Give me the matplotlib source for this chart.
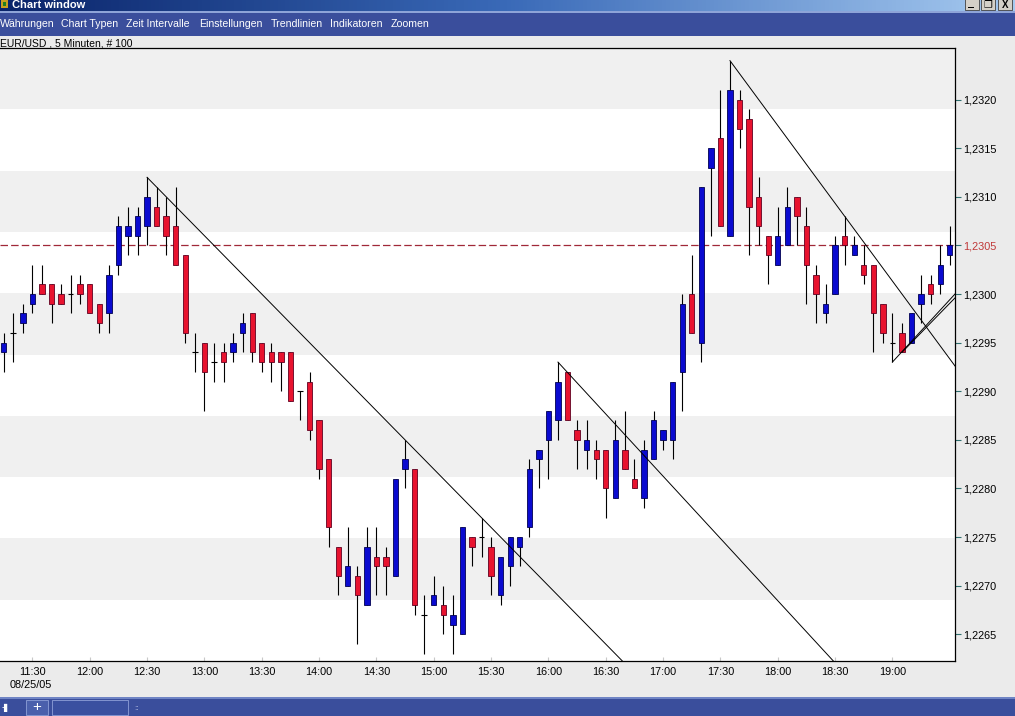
import numpy as np
import matplotlib
matplotlib.use('Agg')
import matplotlib.pyplot as plt
from matplotlib.patches import Rectangle

plt.rcParams['font.family'] = ['Liberation Sans', 'DejaVu Sans']

W, H = 1015, 716

# EUR/USD 5 minute candles, 11:15 .. 19:30 on 08/25/05
opens = [1.2294, 1.2296, 1.2297, 1.2299, 1.2301, 1.2301, 1.2300, 1.2300, 1.2301, 1.2301,
         1.2299, 1.2298, 1.2303, 1.2306, 1.2306, 1.2307, 1.2309, 1.2308, 1.2307, 1.2304,
         1.2294, 1.2295, 1.2293, 1.2294, 1.2294, 1.2296, 1.2298, 1.2295, 1.2294, 1.2294,
         1.2294, 1.2290, 1.2291, 1.2287, 1.2283, 1.2274, 1.2270, 1.2271, 1.2268, 1.2273,
         1.2273, 1.2271, 1.2282, 1.2282, 1.2267, 1.2268, 1.2268, 1.2266, 1.2265, 1.2275,
         1.2275, 1.2274, 1.2269, 1.2272, 1.2274, 1.2276, 1.2283, 1.2285, 1.2287, 1.2292,
         1.2286, 1.2284, 1.2284, 1.2284, 1.2279, 1.2284, 1.2281, 1.2279, 1.2283, 1.2285,
         1.2285, 1.2292, 1.2300, 1.2295, 1.2313, 1.2316, 1.2306, 1.2320, 1.2318, 1.2310,
         1.2306, 1.2303, 1.2305, 1.2310, 1.2307, 1.2302, 1.2298, 1.2300, 1.2306, 1.2304,
         1.2303, 1.2303, 1.2299, 1.2295, 1.2296, 1.2295, 1.2299, 1.2301, 1.2301, 1.2304]
highs = [1.2296, 1.2298, 1.2299, 1.2303, 1.2303, 1.2301, 1.2301, 1.2302, 1.2302, 1.2301,
         1.2299, 1.2303, 1.2308, 1.2309, 1.2309, 1.2312, 1.2311, 1.2310, 1.2311, 1.2304,
         1.2296, 1.2295, 1.2295, 1.2295, 1.2296, 1.2298, 1.2298, 1.2295, 1.2295, 1.2294,
         1.2294, 1.2290, 1.2292, 1.2287, 1.2283, 1.2274, 1.2276, 1.2272, 1.2276, 1.2276,
         1.2274, 1.2281, 1.2285, 1.2282, 1.2269, 1.2271, 1.2270, 1.2269, 1.2276, 1.2275,
         1.2277, 1.2275, 1.2273, 1.2275, 1.2275, 1.2283, 1.2284, 1.2288, 1.2293, 1.2292,
         1.2287, 1.2287, 1.2285, 1.2284, 1.2287, 1.2288, 1.2283, 1.2285, 1.2288, 1.2286,
         1.2291, 1.2300, 1.2304, 1.2311, 1.2315, 1.2321, 1.2324, 1.2321, 1.2319, 1.2312,
         1.2306, 1.2309, 1.2311, 1.2310, 1.2309, 1.2303, 1.2301, 1.2306, 1.2308, 1.2306,
         1.2305, 1.2303, 1.2299, 1.2298, 1.2297, 1.2298, 1.2302, 1.2302, 1.2305, 1.2307]
lows = [1.2292, 1.2293, 1.2296, 1.2298, 1.2300, 1.2297, 1.2299, 1.2298, 1.2299, 1.2298,
        1.2296, 1.2296, 1.2302, 1.2304, 1.2304, 1.2305, 1.2307, 1.2304, 1.2303, 1.2295,
        1.2292, 1.2288, 1.2291, 1.2291, 1.2293, 1.2294, 1.2293, 1.2292, 1.2291, 1.2290,
        1.2289, 1.2287, 1.2285, 1.2281, 1.2274, 1.2269, 1.2270, 1.2264, 1.2268, 1.2269,
        1.2269, 1.2271, 1.2280, 1.2267, 1.2263, 1.2268, 1.2265, 1.2263, 1.2265, 1.2272,
        1.2273, 1.2269, 1.2268, 1.2270, 1.2272, 1.2275, 1.2280, 1.2281, 1.2285, 1.2287,
        1.2282, 1.2282, 1.2281, 1.2277, 1.2279, 1.2282, 1.2280, 1.2278, 1.2283, 1.2284,
        1.2283, 1.2288, 1.2296, 1.2293, 1.2306, 1.2307, 1.2306, 1.2315, 1.2304, 1.2305,
        1.2301, 1.2303, 1.2305, 1.2305, 1.2299, 1.2297, 1.2297, 1.2300, 1.2303, 1.2304,
        1.2301, 1.2294, 1.2295, 1.2293, 1.2294, 1.2295, 1.2297, 1.2299, 1.2300, 1.2303]
closes = [1.2295, 1.2296, 1.2298, 1.2300, 1.2300, 1.2299, 1.2299, 1.2300, 1.2300, 1.2298,
          1.2297, 1.2302, 1.2307, 1.2307, 1.2308, 1.2310, 1.2307, 1.2306, 1.2303, 1.2296,
          1.2294, 1.2292, 1.2293, 1.2293, 1.2295, 1.2297, 1.2294, 1.2293, 1.2293, 1.2293,
          1.2289, 1.2290, 1.2286, 1.2282, 1.2276, 1.2271, 1.2272, 1.2269, 1.2274, 1.2272,
          1.2272, 1.2281, 1.2283, 1.2268, 1.2267, 1.2269, 1.2267, 1.2267, 1.2276, 1.2274,
          1.2275, 1.2271, 1.2273, 1.2275, 1.2275, 1.2282, 1.2284, 1.2288, 1.2291, 1.2287,
          1.2285, 1.2285, 1.2283, 1.2280, 1.2285, 1.2282, 1.2280, 1.2284, 1.2287, 1.2286,
          1.2291, 1.2299, 1.2296, 1.2311, 1.2315, 1.2307, 1.2321, 1.2317, 1.2309, 1.2307,
          1.2304, 1.2306, 1.2309, 1.2308, 1.2303, 1.2300, 1.2299, 1.2305, 1.2305, 1.2305,
          1.2302, 1.2298, 1.2296, 1.2295, 1.2294, 1.2298, 1.2300, 1.2300, 1.2303, 1.2305]

last_price = 1.2305

# trend lines: (candle index, price) -> (candle index, price)
trend_lines = [
    (15, 1.2312, 65, 1.2262),
    (58, 1.2293, 88, 1.2261),
    (76, 1.2324, 100, 1.2292),
    (93, 1.2293, 99.55, 1.2300),
    (94, 1.2294, 99.55, 1.22996),
]

time_tick_idx = [3, 9, 15, 21, 27, 33, 39, 45, 51, 57, 63, 69, 75, 81, 87, 93]
time_labels = ['11:30', '12:00', '12:30', '13:00', '13:30', '14:00', '14:30', '15:00',
               '15:30', '16:00', '16:30', '17:00', '17:30', '18:00', '18:30', '19:00']
price_ticks = [1.2265, 1.2270, 1.2275, 1.2280, 1.2285, 1.2290, 1.2295,
               1.2300, 1.2305, 1.2310, 1.2315, 1.2320]

menu_items = ['Währungen', 'Chart Typen', 'Zeit Intervalle', 'Einstellungen',
              'Trendlinien', 'Indikatoren', 'Zoomen']
menu_x = [0, 61, 126, 199, 271, 330, 391]

BLUE = '#0a0ad0'
RED = '#e8132f'
MENU_BLUE = '#3a4e9c'

fig = plt.figure(figsize=(W / 100, H / 100), dpi=100, facecolor='#ebebeb')

# window chrome, drawn in pixel coordinates
bg = fig.add_axes([0, 0, 1, 1])
bg.set_xlim(0, W)
bg.set_ylim(H, 0)
bg.axis('off')

grad = np.linspace(0, 1, 256)[None, :]
cmap = matplotlib.colors.LinearSegmentedColormap.from_list('title', ['#0a246a', '#3a6ab8', '#a6caf0'])
bg.imshow(grad, cmap=cmap, extent=(0, W, 11, 0), aspect='auto')
bg.add_patch(Rectangle((0, 11), W, 2, color='#8ea4d8', lw=0))
bg.add_patch(Rectangle((0, 13), W, 23, color=MENU_BLUE, lw=0))
bg.add_patch(Rectangle((1, 0), 7, 8, color='#c8a020', lw=0))
bg.add_patch(Rectangle((3, 2), 3, 4, color='#208020', lw=0))
bg.text(12, 5.5, 'Chart window', color='white', fontsize=8, fontweight='bold', va='center', ha='left')
for bx in [965, 981, 998]:
    bg.add_patch(Rectangle((bx, -1), 14, 11, facecolor='#d4d0c8', edgecolor='#404040', lw=0.6))
bg.add_patch(Rectangle((968, 7), 6, 1.3, color='black', lw=0))
bg.text(988, 5, '❐', fontsize=7, ha='center', va='center', family=['DejaVu Sans'])
bg.text(1005, 5, 'X', fontsize=7, ha='center', va='center', fontweight='bold')

for label, mx in zip(menu_items, menu_x):
    bg.text(mx, 24, label, color='white', fontsize=7.6, va='center', ha='left')

bg.text(0, 43, 'EUR/USD , 5 Minuten, # 100', fontsize=7.5, va='center', ha='left')
bg.text(10, 684.5, '08/25/05', fontsize=7.8, va='center', ha='left')

# status bar
bg.add_patch(Rectangle((0, 697), W, 19, color=MENU_BLUE, lw=0))
bg.add_patch(Rectangle((0, 697), W, 1.5, color='#6f84c4', lw=0))
bg.add_patch(Rectangle((26, 700), 22, 15, facecolor='#4a60ac', edgecolor='#8ea0d8', lw=0.6))
bg.add_patch(Rectangle((52, 700), 76, 15, facecolor='#3a50a0', edgecolor='#8ea0d8', lw=0.6))
bg.text(37, 707, '+', color='white', fontsize=11, ha='center', va='center')
bg.text(2, 707, '-▌', color='white', fontsize=6, ha='left', va='center', family=['DejaVu Sans'])
bg.text(134, 708, '::', color='#c0c8e8', fontsize=6, ha='left', va='center')

# chart area
ax = fig.add_axes([0, 1 - 661 / H, 955 / W, 613 / H])
ax.set_facecolor('white')

o = np.array(opens)
h = np.array(highs)
l = np.array(lows)
c = np.array(closes)
idx = np.arange(len(o))

xlo, xhi = -0.39, 99.55
ylo, yhi = 1.226226, 1.23253
ax.set_xlim(xlo, xhi)
ax.set_ylim(ylo, yhi)

# alternating horizontal bands, grey on top
edges = np.linspace(ylo, yhi, 11)
for k in range(10):
    if k % 2 == 0:
        ax.axhspan(edges[9 - k], edges[10 - k], color='#f0f0f0', lw=0, zorder=0)

ax.axhline(last_price, color='#a02838', lw=0.9, dashes=(6, 2.5), zorder=1)

up = c > o + 1e-9
down = c < o - 1e-9
doji = ~(up | down)

ax.vlines(idx, l, h, color='black', lw=0.8, zorder=2)
ax.bar(idx[up], (c - o)[up], bottom=o[up], width=0.56, color=BLUE,
       edgecolor='#000050', lw=0.6, zorder=3)
ax.bar(idx[down], (o - c)[down], bottom=c[down], width=0.56, color=RED,
       edgecolor='#600020', lw=0.6, zorder=3)
ax.hlines(o[doji], idx[doji] - 0.3, idx[doji] + 0.3, color='black', lw=0.8, zorder=3)

for i0, p0, i1, p1 in trend_lines:
    ax.plot([i0, i1], [p0, p1], color='black', lw=0.7, zorder=4)

for side in ['top', 'right', 'bottom']:
    ax.spines[side].set_color('black')
    ax.spines[side].set_linewidth(0.9)
ax.spines['left'].set_visible(False)

ax.yaxis.tick_right()
ax.set_yticks(price_ticks)
ax.set_yticklabels([f'{p:.4f}'.replace('.', ',') for p in price_ticks])
ax.tick_params(axis='y', length=4, width=0.8, color='#2f6f6f', pad=2, labelsize=7.8)
for t, p in zip(ax.get_yticklabels(), price_ticks):
    if abs(p - last_price) < 1e-9:
        t.set_color('#c03838')

ax.set_xticks(time_tick_idx)
ax.set_xticklabels(time_labels)
ax.tick_params(axis='x', direction='in', length=3, width=0.8, color='#c8c8c8',
               pad=4, labelsize=7.8)

fig.savefig('out.png', dpi=100, facecolor=fig.get_facecolor())
